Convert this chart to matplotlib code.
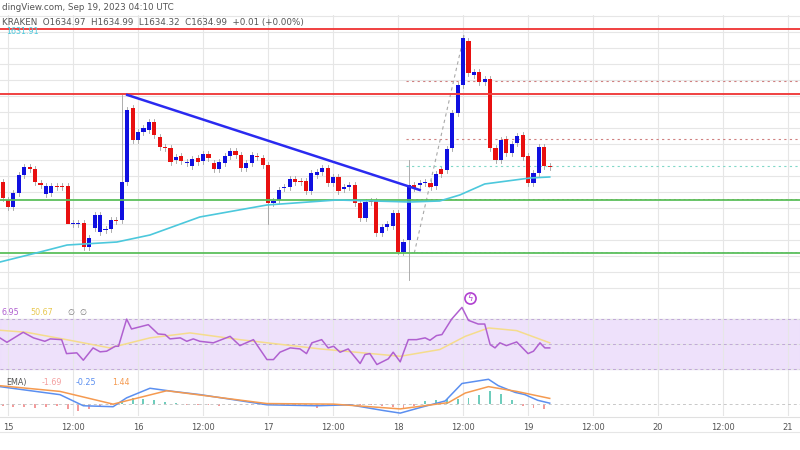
import numpy as np
import matplotlib.pyplot as plt
from matplotlib.patches import Rectangle

# ---------------- hourly candles (hour 0 = Sep 15 00:00) ----------------
opens = [1654.5, 1650, 1648.25, 1651.75, 1656.25, 1658.25, 1657.75, 1654.25, 1651.5, 1651.75,
         1653.5, 1653.5, 1653.5, 1644, 1644, 1644.25, 1638.25, 1643, 1642, 1642.5,
         1642.75, 1645, 1645, 1654.5, 1673, 1665, 1667, 1667.5, 1669.5, 1665.75,
         1663.25, 1663, 1660, 1661, 1659.25, 1658.5, 1660.5, 1659.75, 1661.5, 1659.25,
         1657.75, 1659.25, 1661, 1662.25, 1661.25, 1658, 1659.25, 1661, 1660.5, 1658.75,
         1649.25, 1650, 1653, 1653.25, 1655.25, 1654.75, 1654.75, 1652.25, 1656.25, 1657,
         1658, 1654.25, 1655.75, 1652.75, 1653.25, 1653.75, 1649.25, 1645.5, 1649.75, 1649.75,
         1641.75, 1643.25, 1643.5, 1646.75, 1637, 1640, 1653.75, 1653.75, 1654.25, 1654.25,
         1653.5, 1657.75, 1657.5, 1663, 1671.75, 1678.75, 1689.75, 1681.25, 1682, 1679.5,
         1680.25, 1663, 1660, 1665.25, 1661.75, 1664.25, 1666.25, 1661, 1654.25, 1656.75,
         1663.25, 1658.5]
closes = [1650.5, 1648.25, 1651.75, 1656.25, 1658.25, 1657.75, 1654.5, 1653.75, 1653.5, 1653.5,
          1653.25, 1653.25, 1644, 1644.25, 1644.25, 1638.25, 1640.5, 1646.25, 1646.25, 1642.75,
          1645, 1644.75, 1654.5, 1672.5, 1665, 1667, 1668, 1669.5, 1666.25, 1663.25,
          1663, 1659.5, 1660.75, 1659.75, 1659.5, 1660.25, 1659.5, 1661.5, 1660.5, 1657.75,
          1659.5, 1661, 1662.25, 1661.25, 1658, 1659.25, 1661.25, 1660.75, 1658.75, 1649.25,
          1649.75, 1652.5, 1653.25, 1655.25, 1654.5, 1654.5, 1652.25, 1656.75, 1657, 1658,
          1654.25, 1655.75, 1652.25, 1653.25, 1653.75, 1649.25, 1645.5, 1649.5, 1649.5, 1641.75,
          1643.25, 1644, 1646.75, 1637, 1639.5, 1653.75, 1653, 1654.25, 1654.5, 1653.25,
          1656.5, 1656.5, 1662.75, 1671.75, 1678.75, 1690.5, 1681.75, 1682, 1679.5, 1680.25,
          1663, 1660, 1665, 1661.75, 1664, 1666, 1660.75, 1654.25, 1656.75, 1663.25,
          1658.5, 1658.25]
first_hour = -1
wick_overrides = {22: (1676.25, None), 12: (None, 1646), 49: (None, 1644),
                  73: (None, 1636.5), 75: (1660, 1630), 85: (1691.25, None)}

# ---------------- levels ----------------
red_levels = [1692.75, 1676.5]
green_levels = [1650, 1636.75]
trend_hours = [22, 76]
trend_prices = [1676.25, 1652.5]

ema_hours = [-1.5, 5.9, 10.9, 20.1, 26.2, 35.4, 47.8, 60.7, 74.2, 79.7, 83.4, 88, 96.4, 100]
ema_vals = [1634.5, 1637, 1638.75, 1639.5, 1641.25, 1645.75, 1648.75, 1650, 1649.5, 1649.75,
            1651.25, 1654, 1655.5, 1655.75]

# ---------------- RSI ----------------
rsi_hours = [-1.5, -0.2, 2.8, 4.7, 6.8, 7.8, 9.9, 10.8, 12.7, 13.9, 15.7, 17, 18.2, 19.8, 20.4,
             21.9, 22.8, 25.9, 27.7, 29, 29.9, 31.8, 33, 34.2, 35.4, 37.9, 41, 42.8, 45.3, 47.8,
             49, 50.2, 52.1, 53.9, 55.1, 56.1, 57.9, 59.1, 60.1, 61.3, 62.8, 65, 65.9, 66.8, 68.1,
             70.2, 71.1, 72.4, 73, 73.9, 75.4, 77, 77.9, 79.1, 80.1, 81.9, 83.8, 85, 86.8, 88,
             89, 89.9, 90.8, 92, 93.9, 96, 97, 98.2, 99.1, 100]
rsi_vals = [54.9, 51.4, 59.3, 54.9, 52.2, 54.1, 53.5, 42.5, 43.1, 37.3, 47, 43.9, 44.4, 48.3, 48.3,
            69.7, 61.9, 65.3, 58, 57.5, 54.1, 54.9, 52.2, 54.1, 52.2, 51, 56.1, 48.8, 53.5, 37.8,
            37.8, 43.6, 47, 46.2, 42.5, 51, 53.5, 47, 48.3, 43.6, 46.2, 34.7, 41.8, 42.5, 33.9,
            38.4, 43.6, 36, 43.3, 53.5, 53.5, 54.9, 53, 56.7, 57.5, 69.7, 78.9, 68.7, 65.8, 65.8,
            49.6, 47, 51, 48.8, 51.7, 42.5, 44.4, 51, 47, 47]
rsima_hours = [-1.5, 3.4, 10.8, 18.8, 26.2, 33.6, 42.8, 57.6, 72.4, 79.7, 84.4, 88.7, 90.8, 93.9, 100]
rsima_vals = [60.9, 59.3, 53.5, 47, 54.9, 58.8, 53.5, 46.2, 40.4, 45.7, 56.1, 62.7, 61.9, 60.6, 51]

# ---------------- MACD ----------------
macd_hours = [-1.5, 9.6, 13.9, 19.4, 21.9, 26.2, 30.5, 35.4, 47.8, 57, 63.1, 69.3, 72.4, 76.2,
              80.7, 83.8, 88.7, 90.5, 93.6, 95.4, 97.8, 100]
macd_vals = [1.77, 0.93, -0.23, -0.33, 0.6, 1.6, 1.27, 0.94, -0.13, -0.23, -0.13, -0.73, -1.0, -0.4,
             0.27, 2.1, 2.54, 1.87, 1.17, 0.94, 0.34, 0.04]
sig_hours = [-1.5, 9.6, 19.4, 29.3, 47.8, 60.1, 72.4, 81.3, 84.4, 88.7, 93.9, 100]
sig_vals = [1.87, 1.27, -0.06, 1.34, 0, -0.06, -0.56, 0.1, 1.1, 1.77, 1.27, 0.54]
hist_vals = [-0.3, -0.4, -0.4, -0.5, -0.4, -0.3, -0.6, -0.8, -0.6, -0.4, -0.2,
             0.3, 0.6, 0.5, 0.4, 0.2, 0.1, -0.1,
             -0.2, -0.2, -0.3, -0.2, -0.2, -0.1, -0.1, -0.2, -0.1, -0.1, -0.3, -0.5, -0.3, -0.2,
             -0.1, -0.1, -0.2, -0.3, -0.4, -0.6,
             -0.3, 0.3, 0.4, 0.5, 0.5, 0.6, 0.9, 1.3, 1.0, 0.4, -0.3, -0.5, -0.6]

tick_hours = [0, 12, 24, 36, 48, 60, 72, 84, 96, 108, 120, 132, 144]
tick_labels = ['15', '12:00', '16', '12:00', '17', '12:00', '18', '12:00', '19', '12:00', '20', '12:00', '21']

UP = '#1010e0'
DOWN = '#e81010'
GRID = '#e6e6e6'
XMIN, XMAX = -1.48, 146.2

fig = plt.figure(figsize=(8, 4.5), dpi=100)
ax = fig.add_axes([0, 0.351, 1, 0.616])
ax_rsi = fig.add_axes([0, 0.1733, 1, 0.1777])
ax_macd = fig.add_axes([0, 0.0756, 1, 0.0977])

for a in (ax, ax_rsi, ax_macd):
    a.set_xlim(XMIN, XMAX)
    for s in a.spines.values():
        s.set_visible(False)
    a.set_xticks(tick_hours)
    a.tick_params(length=0, labelbottom=False, labelleft=False)
    a.grid(True, color=GRID, lw=0.8)
    a.set_axisbelow(True)

# ---- price panel ----
ax.set_ylim(1627, 1696.25)
ax.set_yticks(np.arange(1628, 1697, 4))
hours = np.arange(len(opens)) + first_hour
for i, (h, o, c) in enumerate(zip(hours, opens, closes)):
    col = UP if c >= o else DOWN
    hi, lo = max(o, c) + 0.75, min(o, c) - 0.75
    if i in wick_overrides:
        oh, ol = wick_overrides[i]
        hi = oh if oh is not None else hi
        lo = ol if ol is not None else lo
    ax.plot([h, h], [lo, hi], color='#a0a0a0', lw=0.6, zorder=2)
    ax.add_patch(Rectangle((h - 0.38, min(o, c)), 0.76, max(abs(c - o), 0.3),
                           color=col, zorder=3, lw=0))

for lv in red_levels:
    ax.axhline(lv, color='#f04040', lw=1.4, zorder=4)
for lv in green_levels:
    ax.axhline(lv, color='#5cbf5c', lw=1.3, zorder=4)
ax.hlines([1679.75, 1665.25], 73.5, XMAX, colors='#d08080', linestyles=(0, (2, 3)), lw=0.8)
ax.hlines([1658.5], 73.5, XMAX, colors='#80d8c8', linestyles=(0, (2, 3)), lw=0.8)
ax.hlines([1650.25], 73.5, XMAX, colors='#e06060', linestyles=(0, (2, 3)), lw=0.7)
ax.hlines([1637], 73.5, XMAX, colors='#90c0f0', linestyles=(0, (2, 3)), lw=0.7)
ax.plot(ema_hours, ema_vals, color='#4cc8dc', lw=1.2, zorder=4)
ax.plot(trend_hours, trend_prices, color='#2a2af0', lw=1.8, zorder=5)
ax.plot([75, 84.2], [1636.75, 1691.25], color='#a8a8a8', lw=0.8, ls=(0, (3, 3)), zorder=2)

# header texts (the reference crops their left ends)
fig.text(0.002, 0.984, 'dingView.com, Sep 19, 2023 04:10 UTC', fontsize=6.3, color='#555555', va='center')
fig.text(0.002, 0.949, 'KRAKEN  O1634.97  H1634.99  L1634.32  C1634.99  +0.01 (+0.00%)',
         fontsize=6.3, color='#555555', va='center')
fig.text(0.008, 0.929, '1631.91', fontsize=5.8, color='#4cc8dc', va='center')

# ---- RSI panel ----
ax_rsi.set_ylim(28, 91)
ax_rsi.set_yticks([30, 50, 70])
ax_rsi.axhspan(30, 70, color='#ecdcfb', alpha=0.85, zorder=0)
for lv in (30, 50, 70):
    ax_rsi.axhline(lv, color='#c0a8d8', lw=0.7, ls=(0, (3, 3)))
ax_rsi.plot(rsima_hours, rsima_vals, color='#f5dc8c', lw=1.1)
ax_rsi.plot(rsi_hours, rsi_vals, color='#b060d0', lw=1.1)
fig.text(0.002, 0.305, '6.95', fontsize=5.8, color='#b060d0', va='center')
fig.text(0.038, 0.305, '50.67', fontsize=5.8, color='#e8c850', va='center')
fig.text(0.085, 0.305, '∅  ∅', fontsize=5.8, color='#777777', va='center')
ax_rsi.plot([85.2], [86], marker='o', ms=8, mfc='none', mec='#b040d0', mew=1.2)
ax_rsi.text(85.2, 86, 'ϟ', fontsize=6, color='#b040d0', ha='center', va='center')

# ---- MACD panel ----
ax_macd.set_ylim(-1.3, 3.3)
ax_macd.set_yticks([])
ax_macd.axhline(0, color='#c8c8c8', lw=0.7, ls=(0, (3, 3)))
hist_hours = np.arange(len(hist_vals)) * 2 + first_hour
hist_cols = ['#30b8a0' if v > 0 else '#f07070' for v in hist_vals]
ax_macd.bar(hist_hours, hist_vals, width=0.35, color=hist_cols, alpha=0.7)
ax_macd.plot(macd_hours, macd_vals, color='#5b8ff0', lw=1.1)
ax_macd.plot(sig_hours, sig_vals, color='#f59a50', lw=1.1)
fig.text(0.008, 0.149, 'EMA)', fontsize=5.8, color='#555555', va='center')
fig.text(0.052, 0.149, '-1.69', fontsize=5.8, color='#f4a0a0', va='center')
fig.text(0.095, 0.149, '-0.25', fontsize=5.8, color='#5b8ff0', va='center')
fig.text(0.14, 0.149, '1.44', fontsize=5.8, color='#f59a50', va='center')

# ---- time axis ----
ax_macd.tick_params(labelbottom=True, labelsize=6, labelcolor='#555555', pad=5)
ax_macd.set_xticklabels(tick_labels)
fig.add_artist(plt.Line2D([0, 1], [0.073, 0.073], color='#e0e0e0', lw=0.8))
fig.add_artist(plt.Line2D([0, 1], [0.04, 0.04], color='#e6e6e6', lw=0.8))

fig.savefig('out.png', dpi=100)
